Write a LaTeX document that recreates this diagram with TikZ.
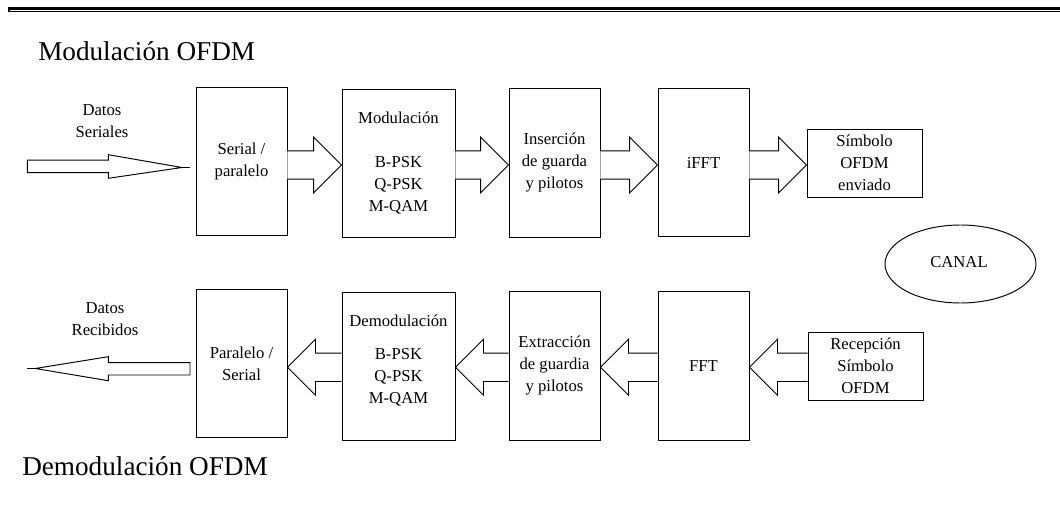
\documentclass[tikz,border=0pt]{standalone}
\usepackage{fontspec}
\setmainfont{Liberation Serif}
\usetikzlibrary{calc,shapes.geometric}

% right-pointing block arrow from #1 to #2 along the row #3
\newcommand\blockR[3]{%
  \draw[barrow] ($(#1.east|-#3)+(0,-14.2)$) -- ($(#2.west|-#3)+(-28,-14.2)$)
    -- ($(#2.west|-#3)+(-28,-28)$) -- (#2.west|-#3)
    -- ($(#2.west|-#3)+(-28,28)$) -- ($(#2.west|-#3)+(-28,14.2)$)
    -- ($(#1.east|-#3)+(0,14.2)$);}
% left-pointing block arrow from #1 to #2 along the row #3
\newcommand\blockL[3]{%
  \draw[barrow] ($(#1.west|-#3)+(0,-14.2)$) -- ($(#2.east|-#3)+(28,-14.2)$)
    -- ($(#2.east|-#3)+(28,-28)$) -- (#2.east|-#3)
    -- ($(#2.east|-#3)+(28,28)$) -- ($(#2.east|-#3)+(28,14.2)$)
    -- ($(#1.west|-#3)+(0,14.2)$);}

\begin{document}
\begin{tikzpicture}[x=0.75pt,y=-0.75pt,
  blk/.style={draw,line width=0.72pt,rectangle,inner sep=0pt,align=center,
    font=\fontsize{12.5}{16.5}\selectfont},
  tall/.style={minimum width=68.25pt,minimum height=111.4pt},
  wide/.style={minimum width=84.75pt,minimum height=111pt},
  flat/.style={minimum width=86.25pt,minimum height=51pt},
  lbl/.style={inner sep=0pt,align=center,font=\fontsize{12.5}{16.5}\selectfont},
  ttl/.style={inner sep=0pt,font=\fontsize{20.4}{24}\selectfont},
  barrow/.style={draw,line width=0.72pt,line join=miter,fill=white}]
\useasboundingbox (0,0) rectangle (1060,506);

% page border at the top
\draw[line width=2.25pt] (8,9) -- (1060,9);
\draw[line width=1.5pt] (9,7.9) -- (9,12);
\draw[line width=0.75pt] (9,11.5) -- (1060,11.5);

% titles
\node[ttl,anchor=base west] (tmod) at (38,61) {Modulación OFDM};
\node[ttl,anchor=base west] (tdem) at (22,475.7) {Demodulación OFDM};

% rows of arrows
\coordinate (rowA) at (0,165);
\coordinate (rowB) at (0,367.3);

% transmitter chain
\node[blk,tall] (sp)   at (241.5,161.5) {Serial /\\paralelo};
\node[blk,wide] (mod)  at (398.5,163) {Modulación\\[16.5pt]B-PSK\\Q-PSK\\M-QAM};
\node[blk,tall] (ins)  at (554.5,163) {Inserción\\de guarda\\y pilotos};
\node[blk,tall] (ifft) at (703.5,162.5) {iFFT};
\node[blk,flat] (sim)  at (864.5,163) {Símbolo\\OFDM\\enviado};

% receiver chain
\node[blk,tall] (ps)   at (241.5,363.5) {Paralelo /\\Serial};
\node[blk,wide] (dem)  at (398.5,366) {};
\node[lbl] (demtxt) at (398.5,360.5) {Demodulación\\[8.6pt]B-PSK\\Q-PSK\\M-QAM};
\node[blk,tall] (ext)  at (554.5,366) {Extracción\\de guardia\\y pilotos};
\node[blk,tall] (fft)  at (703.5,366) {FFT};
\node[blk,flat] (rec)  at (865.5,366) {Recepción\\Símbolo\\OFDM};

% channel
\node[draw,line width=0.72pt,ellipse,inner sep=0pt,minimum width=113.25pt,
  minimum height=58.5pt] (canal) at (960.5,264) {};
\node[lbl] (canaltxt) at (959,262) {CANAL};

% block arrows between stages
\blockR{sp}{mod}{rowA}
\blockR{mod}{ins}{rowA}
\blockR{ins}{ifft}{rowA}
\blockR{ifft}{sim}{rowA}
\blockL{dem}{ps}{rowB}
\blockL{ext}{dem}{rowB}
\blockL{fft}{ext}{rowB}
\blockL{rec}{fft}{rowB}

% serial input data
\node[lbl] (dser) at (102,121) {Datos\\Seriales};
\coordinate (inTail) at (27.3,166.4);
\coordinate (inTip) at (190,167.5);
\draw[barrow] ($(inTail)+(0,-6.2)$) -- ($(inTail)+(81,-6.2)$) -- ($(inTail)+(81,-11.7)$)
  -- ($(inTip)+(-8,0)$) -- ($(inTail)+(81,11.9)$) -- ($(inTail)+(81,6.2)$)
  -- ($(inTail)+(0,6.2)$) -- cycle;
\draw[line width=1.3pt] ($(inTip)+(-10,0)$) -- (inTip);

% received output data
\node[lbl] (drec) at (105,319) {Datos\\Recibidos};
\coordinate (outTail) at (190,368.8);
\coordinate (outTip) at (27.3,368.5);
\draw[barrow] ($(outTail)+(0,-6.2)$) -- ($(outTail)+(-81.7,-6.2)$) -- ($(outTail)+(-81.7,-12.1)$)
  -- ($(outTip)+(8,0)$) -- ($(outTail)+(-81.7,11.9)$) -- ($(outTail)+(-81.7,6.2)$)
  -- ($(outTail)+(0,6.2)$) -- cycle;
\draw[line width=1.3pt] (outTip) -- ($(outTip)+(10,0)$);
\end{tikzpicture}
\end{document}
